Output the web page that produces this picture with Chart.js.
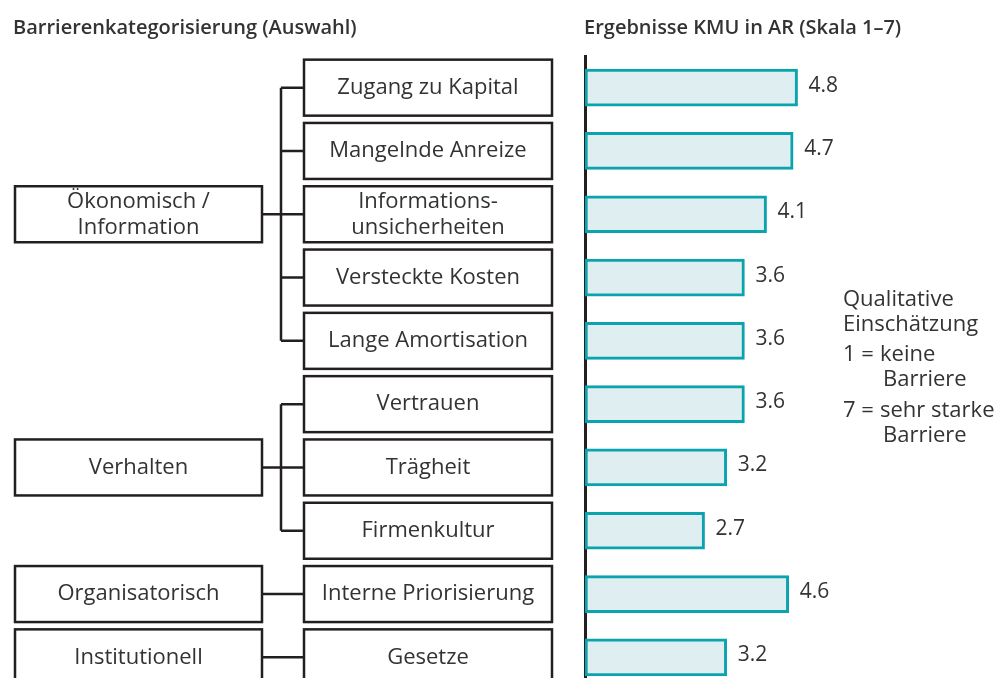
<!DOCTYPE html>
<html>
<head>
<meta charset="utf-8">
<script src="https://cdn.jsdelivr.net/npm/chart.js@4/dist/chart.umd.min.js"></script>
<style>
  html, body { margin: 0; padding: 0; background: #fff; overflow: hidden; }
  #wrap { width: 1007px; height: 678px; overflow: hidden; position: relative; }
</style>
</head>
<body>
<div id="wrap"><canvas id="barrieren" width="1007" height="690"></canvas></div>
<script>
// Barrieren (rechte Spalte der Baumstruktur)
const barrieren = [
  "Zugang zu Kapital",
  "Mangelnde Anreize",
  ["Informations-", "unsicherheiten"],
  "Versteckte Kosten",
  "Lange Amortisation",
  "Vertrauen",
  "Trägheit",
  "Firmenkultur",
  "Interne Priorisierung",
  "Gesetze"
];
// Ergebnisse KMU in AR (Skala 1-7)
const werte = [4.8, 4.7, 4.1, 3.6, 3.6, 3.6, 3.2, 2.7, 4.6, 3.2];
// Kategorien (linke Spalte) und Zuordnung der Barrieren
const kategorien = [["Ökonomisch /", "Information"], "Verhalten", "Organisatorisch", "Institutionell"];
const kategorieVon = [0, 0, 0, 0, 0, 1, 1, 1, 2, 3];
const skala = [0, 7];

const titelLinks = "Barrierenkategorisierung (Auswahl)";
const titelRechts = "Ergebnisse KMU in AR (Skala 1–7)";
const legende = ["Qualitative", "Einschätzung"];

const textFarbe = "#333333";
const linienFarbe = "#231f20";
const schrift = "'Open Sans', 'Noto Sans', sans-serif";

function zeilen(ctx, text, x, y, lh) {
  const z = Array.isArray(text) ? text : [text];
  const start = y - (z.length - 1) * lh / 2;
  z.forEach(function(t, i) { ctx.fillText(t, x, start + i * lh); });
}

// Baumstruktur, Titel und Legende
const baumPlugin = {
  id: "baum",
  afterDraw: function(chart) {
    const ctx = chart.ctx;
    const y = chart.scales.y;
    const x = chart.scales.x;
    const boxH = 56;
    const kindL = 304, kindR = 552, elternL = 15, elternR = 262, stamm = 281;

    ctx.save();
    ctx.strokeStyle = linienFarbe;
    ctx.lineWidth = 2.5;
    ctx.fillStyle = textFarbe;
    ctx.textAlign = "center";
    ctx.textBaseline = "middle";
    ctx.font = "22px " + schrift;

    // Kind-Boxen
    barrieren.forEach(function(b, i) {
      const cy = y.getPixelForValue(i);
      ctx.strokeRect(kindL, cy - boxH / 2, kindR - kindL, boxH);
      zeilen(ctx, b, (kindL + kindR) / 2, cy, 26);
    });

    // Eltern-Boxen und Verbindungen
    kategorien.forEach(function(k, g) {
      const idx = [];
      kategorieVon.forEach(function(v, i) { if (v === g) idx.push(i); });
      const mitte = idx[Math.floor(idx.length / 2)];
      const cy = y.getPixelForValue(mitte);
      ctx.strokeRect(elternL, cy - boxH / 2, elternR - elternL, boxH);
      zeilen(ctx, k, (elternL + elternR) / 2, cy, 26);

      ctx.beginPath();
      if (idx.length > 1) {
        ctx.moveTo(elternR, cy);
        ctx.lineTo(stamm, cy);
        ctx.moveTo(stamm, y.getPixelForValue(idx[0]));
        ctx.lineTo(stamm, y.getPixelForValue(idx[idx.length - 1]));
        idx.forEach(function(i) {
          const py = y.getPixelForValue(i);
          ctx.moveTo(stamm, py);
          ctx.lineTo(kindL, py);
        });
      } else {
        ctx.moveTo(elternR, cy);
        ctx.lineTo(kindL, cy);
      }
      ctx.stroke();
    });

    // Wertebeschriftungen
    ctx.textAlign = "left";
    ctx.font = "21px " + schrift;
    werte.forEach(function(w, i) {
      ctx.fillText(w.toFixed(1), x.getPixelForValue(w) + 11, y.getPixelForValue(i) - 2);
    });

    // Titel
    ctx.font = "600 20px " + schrift;
    ctx.fillText(titelLinks, 13, 28);
    ctx.fillText(titelRechts, 584, 28);

    // Legende
    ctx.font = "22px " + schrift;
    ctx.fillText(legende[0], 843, 300);
    ctx.fillText(legende[1], 843, 325);
    ctx.fillText(skala[0] + 1 + " =", 843, 355);
    ctx.fillText("keine", 880, 355);
    ctx.fillText("Barriere", 883, 380);
    ctx.fillText(skala[1] + " =", 843, 411);
    ctx.fillText("sehr starke", 880, 411);
    ctx.fillText("Barriere", 883, 436);
    ctx.restore();
  }
};

const ctx = document.getElementById("barrieren").getContext("2d");
new Chart(ctx, {
  type: "bar",
  data: {
    labels: barrieren,
    datasets: [{
      label: "Ergebnisse KMU in AR",
      data: werte,
      backgroundColor: "#dfeef1",
      borderColor: "#0ba3ae",
      borderWidth: 3,
      borderSkipped: false,
      barThickness: 37
    }]
  },
  options: {
    indexAxis: "y",
    responsive: false,
    animation: false,
    layout: {
      padding: { left: 585, right: 112, top: 56, bottom: 1 }
    },
    scales: {
      x: {
        display: false,
        min: skala[0],
        max: skala[1]
      },
      y: {
        ticks: { display: false },
        grid: { display: false, drawTicks: false },
        border: { display: true, color: linienFarbe, width: 3 },
        afterFit: function(scale) { scale.width = 0; }
      }
    },
    plugins: {
      legend: { display: false },
      tooltip: { enabled: false }
    }
  },
  plugins: [baumPlugin]
});
</script>
</body>
</html>
